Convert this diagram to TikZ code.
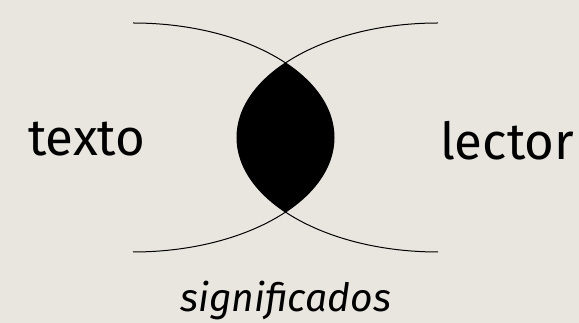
\documentclass[tikz,border=0pt]{standalone}
\usepackage{fontspec}
\setmainfont{Fira Sans}
\begin{document}
\begin{tikzpicture}[x=1pt,y=1pt,
  curve/.style={line width=1pt, black},
  lbl/.style={inner sep=0pt, anchor=base west, font=\fontsize{51}{51}\selectfont},
  lblit/.style={inner sep=0pt, anchor=base west, font=\fontsize{39}{39}\selectfont\itshape}]
\definecolor{bgc}{RGB}{233,230,223}
\fill[bgc] (0,0) rectangle (579,323);
\useasboundingbox (0,0) rectangle (579,323);
\begin{scope}
  \clip (133,185.5) ellipse [x radius=201pt, y radius=114.5pt];
  \fill[black] (438,185.5) ellipse [x radius=201pt, y radius=114.5pt];
\end{scope}
\coordinate (lt) at (133,300);
\coordinate (rt) at (438,300);
\draw[curve] (lt) arc [start angle=90, end angle=-90, x radius=201pt, y radius=114.5pt];
\draw[curve] (rt) arc [start angle=90, end angle=270, x radius=201pt, y radius=114.5pt];
\node[lbl] (texto) at (28,167) {texto};
\node[lbl] (lector) at (440,163) {lector};
\node[lblit] (sig) at (180,11) {significados};
\end{tikzpicture}
\end{document}
